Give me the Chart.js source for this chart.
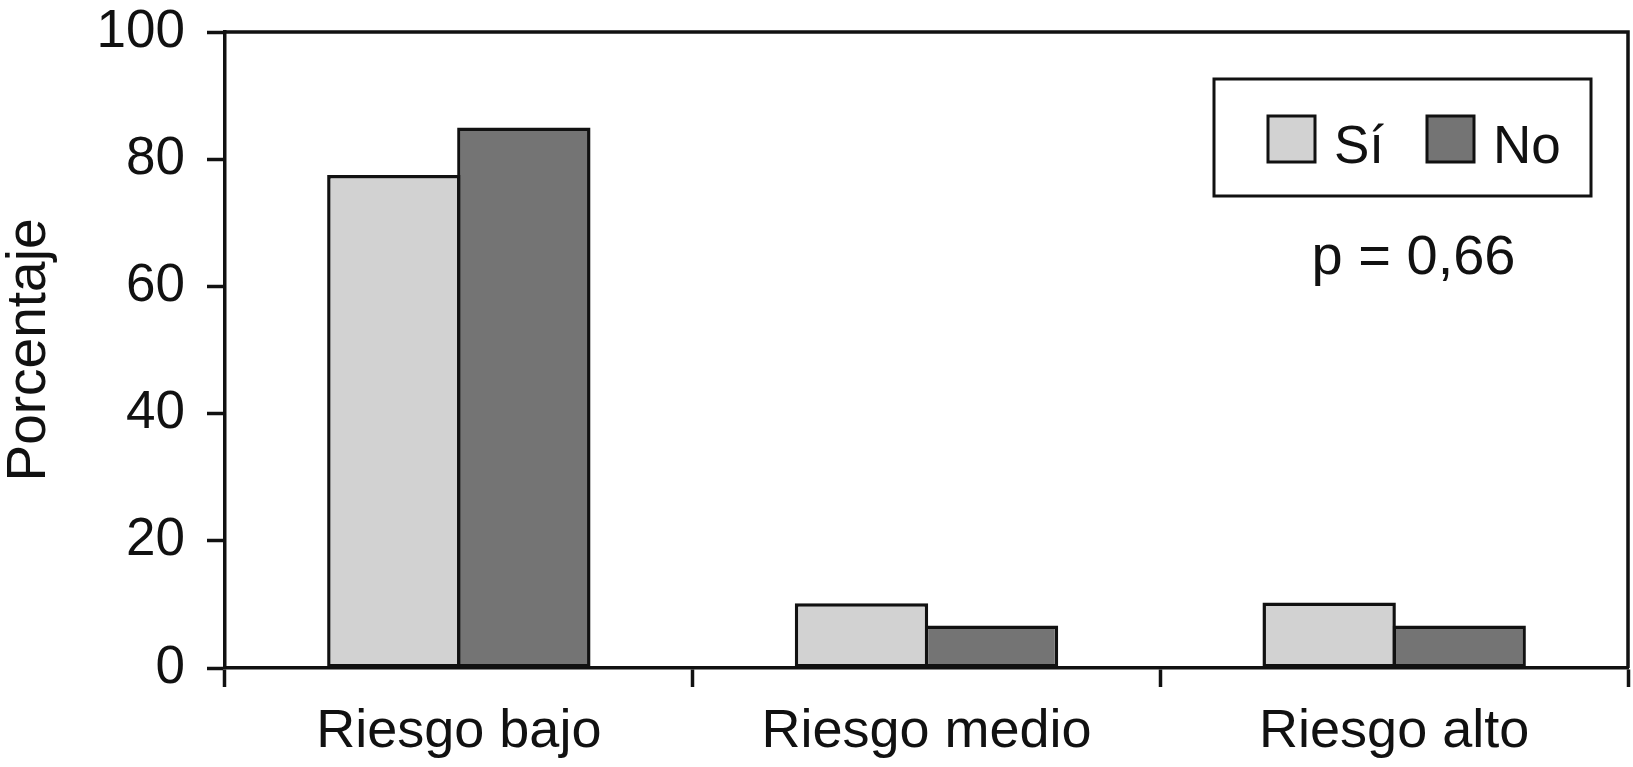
<!DOCTYPE html>
<html>
<head>
<meta charset="utf-8">
<script src="https://cdn.jsdelivr.net/npm/chart.js@4/dist/chart.umd.min.js"></script>
<style>
  body { margin: 0; background: #fff; }
  #wrap { width: 1633px; height: 767px; }
</style>
</head>
<body>
<div id="wrap"><canvas id="riskChart" width="1633" height="767"></canvas></div>
<script>
// Data
const categories = ['Riesgo bajo', 'Riesgo medio', 'Riesgo alto'];
const seriesNames = ['Sí', 'No'];
const siValues = [77.5, 10.2, 10.3];
const noValues = [85.0, 6.7, 6.7];
const yMin = 0;
const yMax = 100;
const yStep = 20;
const yTitle = 'Porcentaje';
const pValueText = 'p = 0,66';

const colors = ['#d2d2d2', '#747474'];
const ink = '#111111';
const fontFamily = '"Liberation Sans", Arial, Helvetica, sans-serif';
const lineW = 3.5;

/**
 * Draws the top/right frame, the boxed legend and the p value
 */
const framePlugin = {
    id: 'frameAndLegend',
    afterDraw(chart) {
        const { ctx, chartArea } = chart;
        ctx.save();

        // top and right frame lines
        ctx.strokeStyle = ink;
        ctx.lineWidth = lineW;
        ctx.beginPath();
        ctx.moveTo(chartArea.left, chartArea.top);
        ctx.lineTo(chartArea.right, chartArea.top);
        ctx.lineTo(chartArea.right, chartArea.bottom);
        ctx.stroke();

        // legend box
        const boxW = 377, boxH = 117;
        const boxX = chartArea.right - 37 - boxW;
        const boxY = chartArea.top + 47;
        ctx.lineWidth = 3;
        ctx.strokeRect(boxX, boxY, boxW, boxH);

        ctx.font = '53px ' + fontFamily;
        ctx.textBaseline = 'alphabetic';
        ctx.textAlign = 'left';
        const swatchOffsets = [54, 213];
        seriesNames.forEach((name, i) => {
            const sx = boxX + swatchOffsets[i];
            const sy = boxY + 37;
            ctx.fillStyle = colors[i];
            ctx.fillRect(sx, sy, 47, 46);
            ctx.strokeStyle = ink;
            ctx.lineWidth = 3;
            ctx.strokeRect(sx, sy, 47, 46);
            ctx.fillStyle = ink;
            ctx.fillText(name, sx + 66, boxY + 84);
        });

        // p value
        ctx.font = '56px ' + fontFamily;
        ctx.textAlign = 'center';
        ctx.fillStyle = ink;
        ctx.fillText(pValueText, boxX + boxW / 2 + 11, boxY + 195);

        ctx.restore();
    }
};

function initChart() {
    const ctx = document.getElementById('riskChart').getContext('2d');
    new Chart(ctx, {
        type: 'bar',
        data: {
            labels: categories,
            datasets: [
                {
                    label: seriesNames[0],
                    data: siValues,
                    backgroundColor: colors[0],
                    borderColor: ink,
                    borderWidth: lineW,
                    borderSkipped: false
                },
                {
                    label: seriesNames[1],
                    data: noValues,
                    backgroundColor: colors[1],
                    borderColor: ink,
                    borderWidth: lineW,
                    borderSkipped: false
                }
            ]
        },
        options: {
            responsive: false,
            animation: false,
            layout: { padding: { top: 32, right: 5, left: 0, bottom: 0 } },
            datasets: {
                // slightly wider than the slot so neighbouring bars share one border
                bar: { categoryPercentage: 0.556, barPercentage: 1.026 }
            },
            plugins: {
                legend: { display: false },
                tooltip: { enabled: false }
            },
            scales: {
                x: {
                    type: 'category',
                    offset: true,
                    grid: {
                        offset: true,
                        drawOnChartArea: false,
                        drawTicks: true,
                        tickLength: 19,
                        tickWidth: lineW,
                        tickColor: ink
                    },
                    border: { display: true, width: lineW, color: ink },
                    ticks: {
                        color: ink,
                        padding: 13,
                        font: { family: fontFamily, size: 54 },
                        maxRotation: 0
                    },
                    afterFit(scale) { scale.height = 99; }
                },
                y: {
                    min: yMin,
                    max: yMax,
                    grid: {
                        drawOnChartArea: false,
                        drawTicks: true,
                        tickLength: 18,
                        tickWidth: lineW,
                        tickColor: ink
                    },
                    border: { display: true, width: lineW, color: ink },
                    ticks: {
                        stepSize: yStep,
                        color: ink,
                        padding: 22,
                        font: { family: fontFamily, size: 53 }
                    },
                    title: {
                        display: true,
                        text: yTitle,
                        color: ink,
                        padding: 0,
                        font: { family: fontFamily, size: 55, lineHeight: 1.1 }
                    },
                    afterFit(scale) {
                        scale.width = 225;
                        scale.paddingTop = 0;
                        scale.paddingBottom = 0;
                    }
                }
            }
        },
        plugins: [framePlugin]
    });
}

document.addEventListener('DOMContentLoaded', initChart);
</script>
</body>
</html>
